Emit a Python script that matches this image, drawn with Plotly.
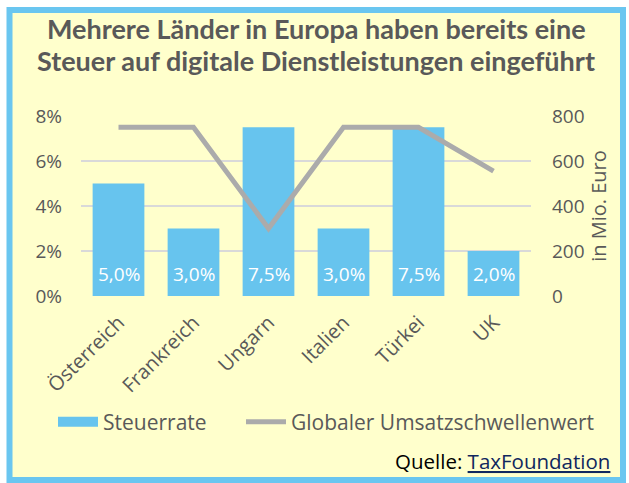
import plotly.graph_objects as go

categories = ["Österreich", "Frankreich", "Ungarn", "Italien", "Türkei", "UK"]
steuerrate = [5.0, 3.0, 7.5, 3.0, 7.5, 2.0]
schwellenwert = [750, 750, 300, 750, 750, 555]
left_ticks = [0, 2, 4, 6, 8]
left_ticktext = ["0%", "2%", "4%", "6%", "8%"]
right_ticks = [0, 200, 400, 600, 800]
title_lines = ["Mehrere Länder in Europa haben bereits eine",
               "Steuer auf digitale Dienstleistungen eingeführt"]
series_names = ["Steuerrate", "Globaler Umsatzschwellenwert"]

FONT = "Open Sans"
TFONT = "Lato"
GREY = "#595959"
BLUE = "#67C4EE"
LINEGREY = "#ABABAB"

L, R, T, B = 81, 98, 116, 187
W, H = 629, 483
pw, ph = W - L - R, H - T - B


def px2paper_x(px):
    return (px - L) / pw


def px2paper_y(py):
    return (H - B - py) / ph


fig = go.Figure()
fig.add_trace(go.Bar(
    x=categories, y=steuerrate, name=series_names[0],
    marker=dict(color=BLUE, line=dict(width=0)), width=0.69,
    showlegend=False, hoverinfo="skip",
))
fig.add_trace(go.Scatter(
    x=categories, y=schwellenwert, name=series_names[1],
    yaxis="y2", mode="lines",
    line=dict(color=LINEGREY, width=5),
    showlegend=False,
))
# legend entries (no data)
fig.add_trace(go.Scatter(
    x=[None], y=[None], name=series_names[0], mode="lines",
    line=dict(color=BLUE, width=12), legend="legend",
))
fig.add_trace(go.Scatter(
    x=[None], y=[None], name=series_names[1], mode="lines",
    line=dict(color=LINEGREY, width=5), legend="legend2",
))

annotations = []
for c, v in zip(categories, steuerrate):
    annotations.append(dict(
        x=c, y=1.0, xref="x", yref="y",
        text=f"{v:.1f}".replace(".", ",") + "%",
        showarrow=False, font=dict(family=FONT, size=19, color="white"),
    ))

for line, ypx in zip(title_lines, [28, 60]):
    annotations.append(dict(
        x=px2paper_x(316), y=px2paper_y(ypx), xref="paper", yref="paper",
        text=f"<b>{line}</b>", showarrow=False,
        xanchor="center", yanchor="middle",
        font=dict(family=TFONT, size=27, color=GREY),
    ))

annotations.append(dict(
    x=px2paper_x(612), y=px2paper_y(461), xref="paper", yref="paper", showarrow=False,
    text="Quelle: <a href='https://taxfoundation.org'><span style='color:#10275E'><u>TaxFoundation</u></span></a>",
    font=dict(family=FONT, size=20.5, color="black"),
    xanchor="right", yanchor="middle",
))

legend_common = dict(
    orientation="h", xref="paper", yref="paper",
    xanchor="left", y=px2paper_y(422), yanchor="middle",
    font=dict(family=FONT, size=21, color=GREY), bgcolor="rgba(0,0,0,0)",
    itemwidth=40,
)

fig.update_layout(
    template="none",
    width=W, height=H,
    margin=dict(l=L, r=R, t=T, b=B, autoexpand=False),
    paper_bgcolor="white",
    plot_bgcolor="rgba(0,0,0,0)",
    font=dict(family=FONT, size=20, color=GREY),
    xaxis=dict(
        tickangle=-45, showgrid=False, showline=False, ticks="", zeroline=False,
        tickfont=dict(family=FONT, size=20, color=GREY), automargin=False,
        ticklabelstandoff=10,
    ),
    yaxis=dict(
        range=[0, 8], tickvals=left_ticks, ticktext=left_ticktext,
        showgrid=True, gridcolor="#D9D9D9", gridwidth=2,
        zeroline=False, showline=False, ticks="", automargin=False,
        tickfont=dict(family=FONT, size=19, color=GREY), ticklabelstandoff=18,
    ),
    yaxis2=dict(
        range=[0, 800], tickvals=right_ticks, overlaying="y", side="right",
        showgrid=False, zeroline=False, showline=False, ticks="", automargin=False,
        tickfont=dict(family=FONT, size=19, color=GREY), ticklabelstandoff=20,
        title=dict(text="in Mio. Euro", font=dict(family=FONT, size=20, color=GREY), standoff=3),
    ),
    showlegend=True,
    legend=dict(x=px2paper_x(53), **legend_common),
    legend2=dict(x=px2paper_x(241), **legend_common),
    annotations=annotations,
    shapes=[dict(
        type="rect", xref="paper", yref="paper", layer="below",
        x0=px2paper_x(9.5), x1=px2paper_x(623), y0=px2paper_y(480), y1=px2paper_y(10),
        fillcolor="#FFFFCC", line=dict(color="#6AC6F0", width=6),
    )],
)

fig.write_html(
    "out.html",
    config={"displayModeBar": False},
    post_script="document.body.style.margin='0';document.body.style.overflow='hidden';",
)
